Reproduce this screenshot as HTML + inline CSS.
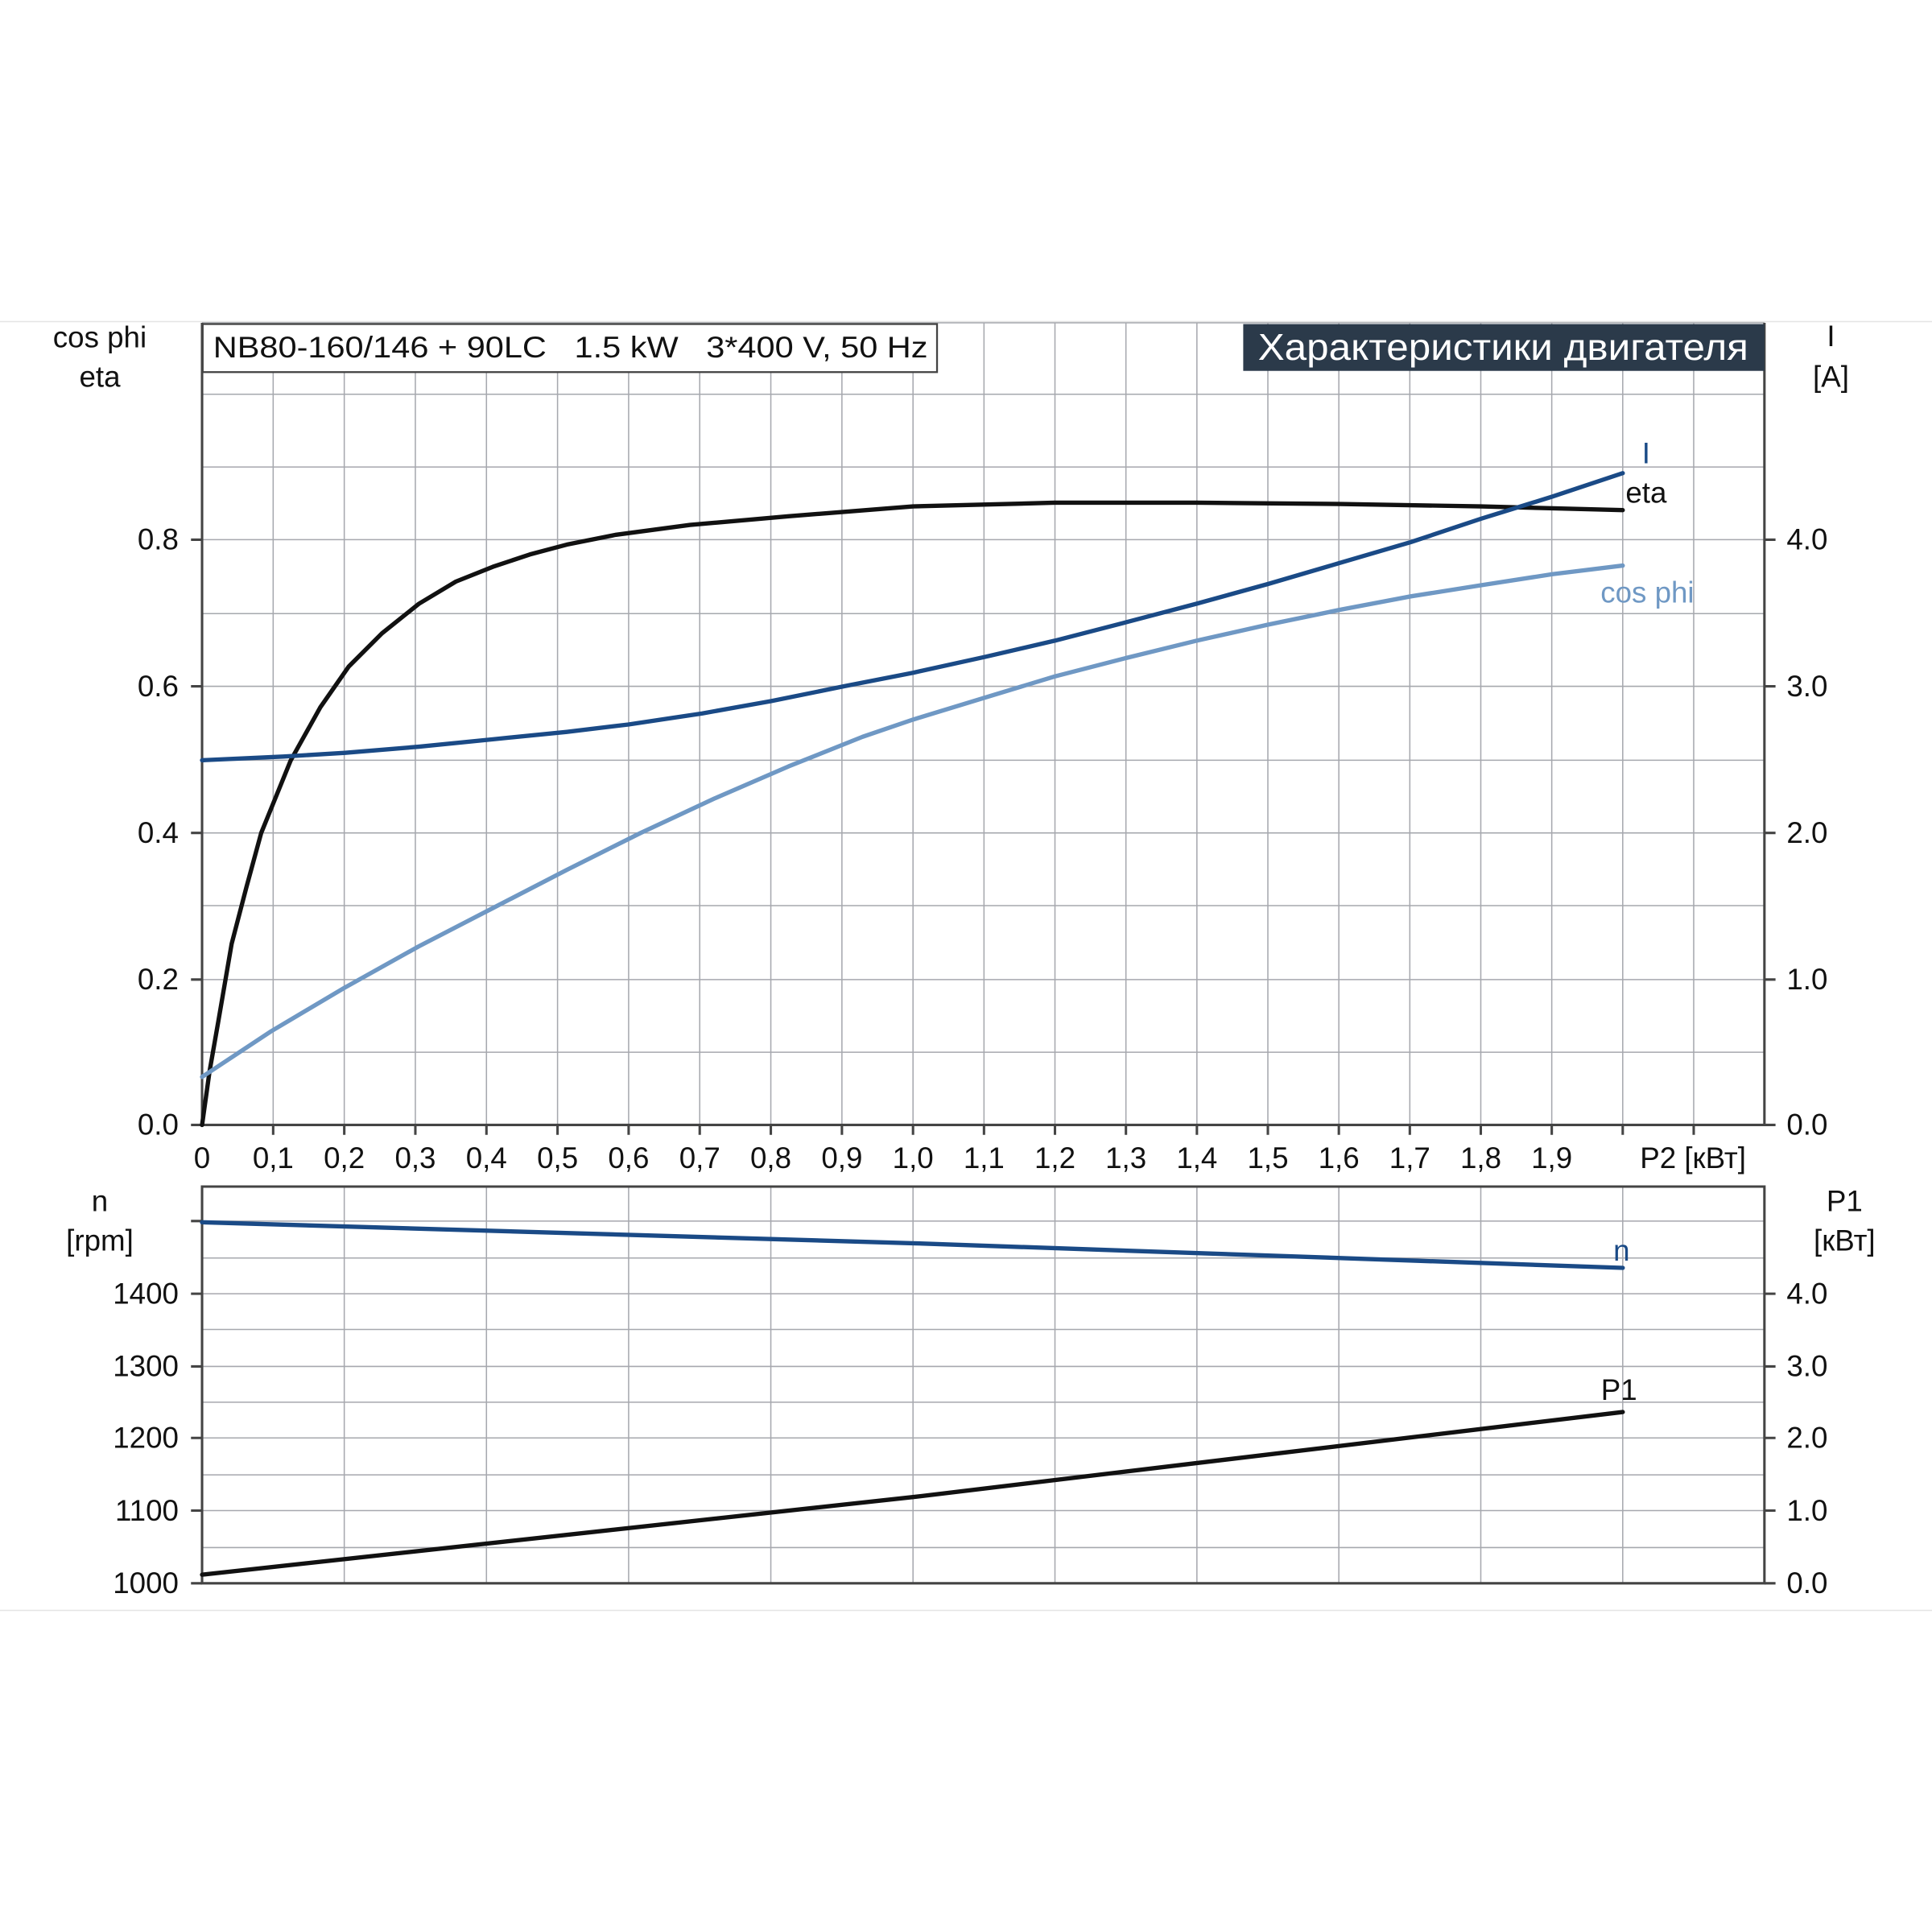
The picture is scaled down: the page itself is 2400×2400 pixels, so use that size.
<!DOCTYPE html>
<html><head><meta charset="utf-8"><style>html,body{margin:0;padding:0;background:#fff}svg{display:block}</style></head><body>
<svg width="2400" height="2400" viewBox="0 0 1568 1568" xmlns="http://www.w3.org/2000/svg" font-family="Liberation Sans, DejaVu Sans, sans-serif">
<line x1="0" y1="261" x2="1568" y2="261" stroke="#e4e4e4" stroke-width="1"/>
<line x1="0" y1="1307" x2="1568" y2="1307" stroke="#e4e4e4" stroke-width="1"/>
<g stroke="#a6a8ae" stroke-width="1">
<path d="M221.7 262V913M279.4 262V913M337.1 262V913M394.8 262V913M452.5 262V913M510.2 262V913M567.9 262V913M625.6 262V913M683.3 262V913M741 262V913M798.6 262V913M856.2 262V913M913.8 262V913M971.4 262V913M1029 262V913M1086.6 262V913M1144.2 262V913M1201.8 262V913M1259.4 262V913M1317 262V913M1374.6 262V913"/>
<path d="M164 854H1432M164 795H1432M164 735H1432M164 676H1432M164 617H1432M164 557H1432M164 498H1432M164 438H1432M164 379H1432M164 320H1432M164 262H1432"/>
<path d="M279.4 963V1285M394.8 963V1285M510.2 963V1285M625.6 963V1285M741 963V1285M856.2 963V1285M971.4 963V1285M1086.6 963V1285M1201.8 963V1285M1317 963V1285"/>
<path d="M164 1256H1432M164 1226H1432M164 1197H1432M164 1167H1432M164 1138H1432M164 1109H1432M164 1079H1432M164 1050H1432M164 1021H1432M164 991H1432"/>
</g>
<g stroke="#444" stroke-width="2" fill="none">
<path d="M164 262V913H1432V262"/>
<path d="M164 963H1432V1285H164Z"/>
<path d="M155 438H164M155 557H164M155 676H164M155 795H164M155 913H164M1432 438H1441M1432 557H1441M1432 676H1441M1432 795H1441M1432 913H1441"/>
<path d="M221.7 913v8M279.4 913v8M337.1 913v8M394.8 913v8M452.5 913v8M510.2 913v8M567.9 913v8M625.6 913v8M683.3 913v8M741 913v8M798.6 913v8M856.2 913v8M913.8 913v8M971.4 913v8M1029 913v8M1086.6 913v8M1144.2 913v8M1201.8 913v8M1259.4 913v8M1317 913v8M1374.6 913v8"/>
<path d="M155 991H164M155 1050H164M155 1109H164M155 1167H164M155 1226H164M155 1285H164M1432 1050H1441M1432 1109H1441M1432 1167H1441M1432 1226H1441M1432 1285H1441"/>
</g>
<rect x="164.5" y="263" width="596" height="39" fill="#fff" stroke="#444" stroke-width="1.5"/>
<text x="173" y="290" font-size="24" fill="#111" xml:space="preserve" style="white-space:pre" textLength="580" lengthAdjust="spacingAndGlyphs">NB80-160/146 + 90LC   1.5 kW   3*400 V, 50 Hz</text>
<rect x="1009" y="263" width="423" height="38" fill="#2b3a4a"/>
<text x="1220" y="292" font-size="30" fill="#fff" text-anchor="middle" textLength="398" lengthAdjust="spacingAndGlyphs">Характеристики двигателя</text>
<g fill="none" stroke-linecap="round" stroke-linejoin="round">
<polyline stroke="#111" stroke-width="3.5" points="164,913 170,870 177,830 188,766 200,720 212,676 236,617 260,574 283,541 310,514 340,490 370,472 400,460 430,450 460,442 500,434 560,426 640,419 741,411 856,408 971,408 1087,409 1202,411 1317,414"/>
<polyline stroke="#6f98c4" stroke-width="3.5" points="164,874 220,837 279,802 340,768 400,737 460,706 520,676 580,648 640,622 700,598 741,584 800,566 856,549 914,534 971,520 1029,507 1087,495 1145,484 1202,475 1260,466 1317,459"/>
<polyline stroke="#1a4a86" stroke-width="3.5" points="164,617 230,614 280,611 340,606 400,600 460,594 510,588 570,579 626,569 685,557 741,546 800,533 856,520 914,505 971,490 1029,474 1087,457 1145,440 1202,421 1260,403 1317,384"/>
<polyline stroke="#1a4a86" stroke-width="3.5" points="164,992 741,1009 1317,1029"/>
<polyline stroke="#111" stroke-width="3.5" points="164,1278 741,1215 1317,1146"/>
</g>
<g font-size="24" fill="#111">
<text x="1336" y="376" text-anchor="middle" fill="#1a4a86">I</text>
<text x="1336" y="408" text-anchor="middle">eta</text>
<text x="1337" y="489" text-anchor="middle" fill="#6f98c4">cos phi</text>
<text x="1316" y="1023" text-anchor="middle" fill="#1a4a86">n</text>
<text x="1314" y="1136" text-anchor="middle">P1</text>
<text x="81" y="282" text-anchor="middle">cos phi</text>
<text x="81" y="314" text-anchor="middle">eta</text>
<text x="1486" y="281" text-anchor="middle">I</text>
<text x="1486" y="314" text-anchor="middle">[A]</text>
<text x="81" y="983" text-anchor="middle">n</text>
<text x="81" y="1015" text-anchor="middle">[rpm]</text>
<text x="1497" y="983" text-anchor="middle">P1</text>
<text x="1497" y="1015" text-anchor="middle">[кВт]</text>
<g text-anchor="end">
<text x="145" y="446">0.8</text><text x="145" y="565">0.6</text><text x="145" y="684">0.4</text><text x="145" y="803">0.2</text><text x="145" y="921">0.0</text>
<text x="145" y="1058">1400</text><text x="145" y="1117">1300</text><text x="145" y="1175">1200</text><text x="145" y="1234">1100</text><text x="145" y="1293">1000</text>
</g>
<g>
<text x="1450" y="446">4.0</text><text x="1450" y="565">3.0</text><text x="1450" y="684">2.0</text><text x="1450" y="803">1.0</text><text x="1450" y="921">0.0</text>
<text x="1450" y="1058">4.0</text><text x="1450" y="1117">3.0</text><text x="1450" y="1175">2.0</text><text x="1450" y="1234">1.0</text><text x="1450" y="1293">0.0</text>
</g>
<g text-anchor="middle">
<text x="164" y="948">0</text><text x="221.7" y="948">0,1</text><text x="279.4" y="948">0,2</text><text x="337.1" y="948">0,3</text><text x="394.8" y="948">0,4</text><text x="452.5" y="948">0,5</text><text x="510.2" y="948">0,6</text><text x="567.9" y="948">0,7</text><text x="625.6" y="948">0,8</text><text x="683.3" y="948">0,9</text><text x="741" y="948">1,0</text><text x="798.6" y="948">1,1</text><text x="856.2" y="948">1,2</text><text x="913.8" y="948">1,3</text><text x="971.4" y="948">1,4</text><text x="1029" y="948">1,5</text><text x="1086.6" y="948">1,6</text><text x="1144.2" y="948">1,7</text><text x="1201.8" y="948">1,8</text><text x="1259.4" y="948">1,9</text><text x="1374" y="948">P2 [кВт]</text>
</g>
</g>
</svg>
</body></html>
